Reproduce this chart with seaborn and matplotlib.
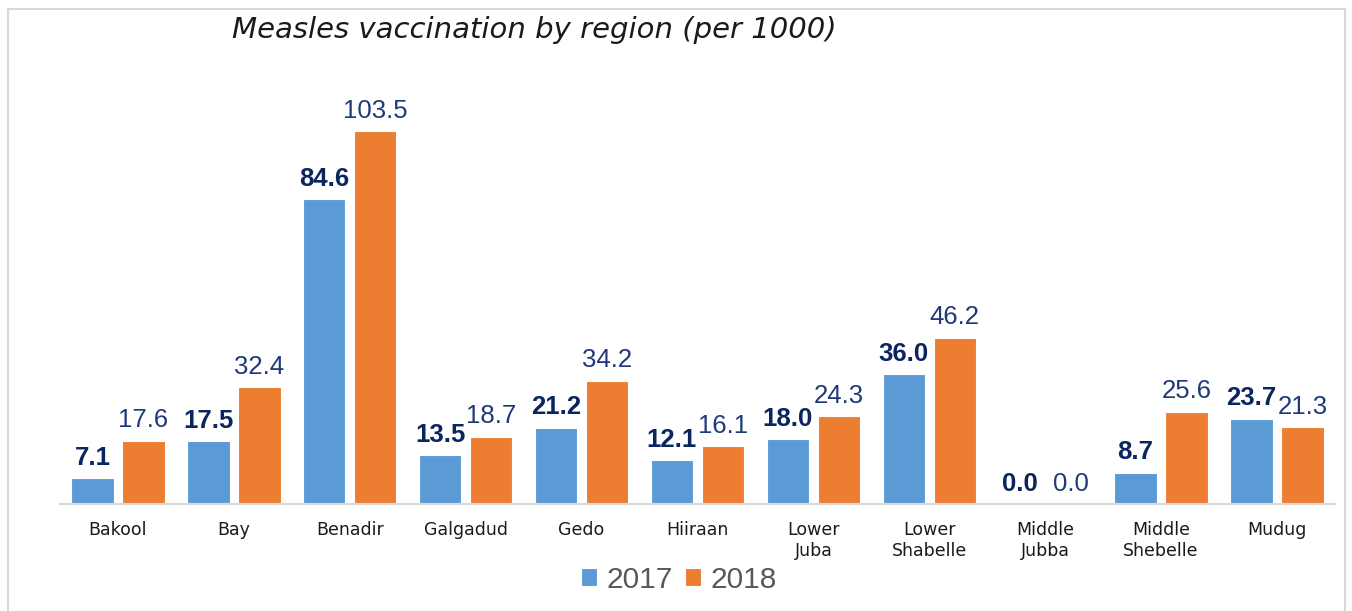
#import libraries
import pandas as pd
import matplotlib.pyplot as plt
import seaborn as sns
from matplotlib.patches import Rectangle

#data
regions = ["Bakool", "Bay", "Benadir", "Galgadud", "Gedo", "Hiiraan",
           "Lower\nJuba", "Lower\nShabelle", "Middle\nJubba", "Middle\nShebelle", "Mudug"]
years = ["2017", "2018"]
v2017 = [7.1, 17.5, 84.6, 13.5, 21.2, 12.1, 18.0, 36.0, 0.0, 8.7, 23.7]
v2018 = [17.6, 32.4, 103.5, 18.7, 34.2, 16.1, 24.3, 46.2, 0.0, 25.6, 21.3]

#long format for seaborn
df = pd.DataFrame({
    'region': regions * 2,
    'year': [years[0]] * len(regions) + [years[1]] * len(regions),
    'rate': v2017 + v2018,
})

sns.set_style("white")
plt.rcParams['font.family'] = ['Liberation Sans', 'DejaVu Sans']

fig = plt.figure(figsize=(13.52, 6.11), dpi=100)
ax = fig.add_axes([0.0444, 0.175, 0.943, 0.708])

b = sns.barplot(data=df, x='region', y='rate', hue='year',
                palette=['#5B9BD5', '#ED7D31'], saturation=1, width=0.88, gap=0.17,
                edgecolor='white', linewidth=0.8, ax=ax, legend=True)

#value labels
ax.bar_label(ax.containers[0], fmt='%.1f', padding=6, fontsize=18.5,
             fontweight='bold', color='#0B2560', family=['Liberation Sans'])
ax.bar_label(ax.containers[1], fmt='%.1f', padding=6, fontsize=18.5,
             color='#1F3A78', family=['Liberation Sans'])

ax.set_ylim(0, 120)
ax.set_xlim(-0.5, len(regions) - 0.5)
ax.set_xlabel('')
ax.set_ylabel('')
ax.set_yticks([])
ax.tick_params(axis='x', length=0, pad=12, labelsize=12.5, labelcolor='#1a1a1a',
               labelfontfamily='DejaVu Sans')
for lab in ax.get_xticklabels():
    lab.set_linespacing(1.25)
for s in ['top', 'right', 'left']:
    ax.spines[s].set_visible(False)
ax.spines['bottom'].set_color('#D9D9D9')
ax.spines['bottom'].set_linewidth(1.6)

#legend at the bottom
handles, labels = ax.get_legend_handles_labels()
ax.get_legend().remove()
fig.legend(handles, labels, loc='center', bbox_to_anchor=(0.502, 0.051), ncol=2,
           frameon=False, prop={'family': 'Liberation Sans', 'size': 21.5},
           labelcolor='#595959', handlelength=0.55,
           handleheight=0.55, handletextpad=0.3, columnspacing=0.4)

#title
fig.text(0.1716, 0.951, 'Measles vaccination by region (per 1000)', fontsize=21,
         style='italic', family=['DejaVu Sans'], color='#1a1a1a', ha='left', va='center')

#light border around the chart area
fig.patches.append(Rectangle((8 / 1352, -0.02), 1337 / 1352, 1 - 9 / 611 + 0.02,
                             transform=fig.transFigure, fill=False,
                             edgecolor='#D9D9D9', linewidth=1.5))

fig.savefig('out.png', dpi=100)
